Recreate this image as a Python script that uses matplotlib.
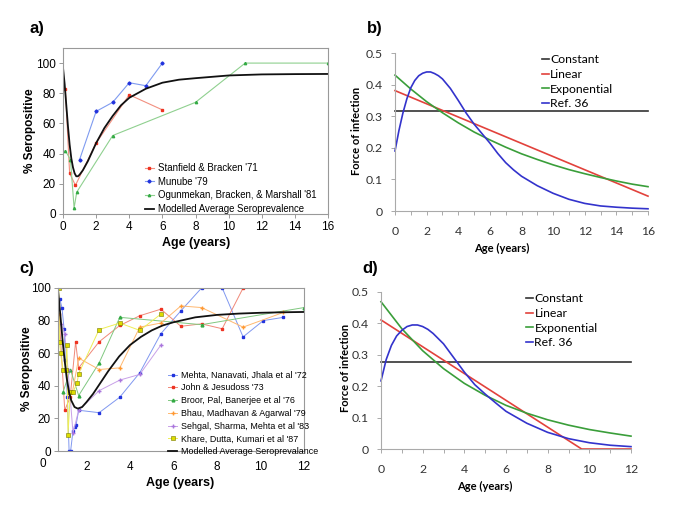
import matplotlib
matplotlib.use("Agg")
import matplotlib.pyplot as plt
from matplotlib.ticker import MultipleLocator

W, H = 685, 512

# ---------------- Panel a data ----------------
a_stan_x = [0.14, 0.4, 0.75, 2, 4, 6]
a_stan_y = [83, 27, 19, 47, 79, 69]
a_mun_x = [1, 2, 3, 4, 5, 6]
a_mun_y = [36, 68, 74, 87, 85, 100]
a_ogu_x = [0.14, 0.45, 0.67, 0.83, 3, 8, 11, 16]
a_ogu_y = [42, 36, 4, 14.5, 52, 74, 100, 100]
a_mod_x = [0, 0.1, 0.2, 0.3, 0.4, 0.5, 0.6, 0.7, 0.8, 0.9, 1.0, 1.2, 1.5, 2, 2.5,
           3, 3.5, 4, 5, 6, 7, 8, 10, 12, 14, 16]
a_mod_y = [97, 86, 72, 58, 46, 37, 31, 27, 25, 25, 26, 29, 35, 47, 57,
           65, 72, 77, 83, 87, 89, 90, 91.8, 92.5, 92.7, 92.8]

# ---------------- Panel b data ----------------
b_x = list(range(0, 17))
b_const = [0.317] * 17
b_lin_x = [0, 16]
b_lin_y = [0.381, 0.047]
b_exp_y = [0.430, 0.386, 0.346, 0.311, 0.279, 0.250, 0.225, 0.202, 0.181,
           0.163, 0.146, 0.131, 0.118, 0.106, 0.095, 0.085, 0.077]
b_ref_x = [0, 0.25, 0.5, 0.75, 1, 1.25, 1.5, 1.75, 2, 2.25, 2.5, 2.75, 3, 3.5,
           4, 4.5, 5, 5.5, 6, 6.5, 7, 7.5, 8, 9, 10, 11, 12, 13, 14, 15, 16]
b_ref_y = [0.19, 0.255, 0.31, 0.355, 0.39, 0.413, 0.428, 0.436, 0.44, 0.44,
           0.435, 0.428, 0.418, 0.388, 0.35, 0.31, 0.275, 0.245, 0.215, 0.182,
           0.153, 0.13, 0.11, 0.08, 0.056, 0.037, 0.024, 0.016, 0.012, 0.009,
           0.007]

# ---------------- Panel c data ----------------
c_meh_x = [0.77, 0.87, 0.97, 1.03, 1.12, 1.2, 1.27, 1.38, 1.45, 1.52, 1.64,
           2.58, 3.53, 4.45, 5.42, 6.34, 7.29, 8.24, 9.2, 10.13, 11.05]
c_meh_y = [93.5, 88, 75, 56, 33, 0, 0, 12.5, 14.5, 16, 25,
           23.5, 33, 48, 72, 86, 100, 100, 70, 80, 82]
c_joh_x = [0.74, 1.0, 1.25, 1.5, 1.64, 2.58, 3.53, 4.45, 5.42, 6.34, 7.29, 8.24, 9.2]
c_joh_y = [84, 25, 33, 67, 51, 67, 77, 83, 87, 76.5, 78, 75, 100]
c_bro_x = [0.92, 1.26, 1.64, 2.58, 3.53, 7.29, 12]
c_bro_y = [36, 50, 34, 54, 82, 77.5, 88]
c_bha_x = [1.2, 1.35, 1.64, 2.58, 3.53, 4.45, 5.42, 6.34, 7.29, 9.2, 11.05]
c_bha_y = [35, 36, 57, 50, 51, 76, 78.5, 89, 88, 76, 85]
c_seh_x = [0.84, 1.0, 1.15, 1.38, 1.64, 2.58, 3.53, 4.45, 5.42]
c_seh_y = [78, 72, 50, 11, 25, 37, 43.5, 47, 65]
c_kha_x = [0.72, 0.76, 0.81, 0.92, 1.04, 1.1, 1.15, 1.26, 1.38, 1.57, 1.64,
           2.58, 3.53, 4.45, 5.42]
c_kha_y = [100, 67, 60, 50, 50, 65, 10, 36, 36, 42, 47.5, 74.5, 78.5, 74, 84]
c_mod_x = [0.69, 0.8, 0.9, 1.0, 1.1, 1.2, 1.3, 1.45, 1.6, 1.8, 2.0, 2.3, 2.6,
           3.0, 3.5, 4.0, 4.5, 5.0, 5.5, 6, 7, 8, 9, 10, 11, 12]
c_mod_y = [99, 83, 68, 55, 44, 36, 31, 27, 26, 27, 30, 35, 41,
           49, 58, 65, 70, 74, 77, 79, 82, 83.5, 84.3, 84.8, 85.1, 85.3]

# ---------------- Panel d data ----------------
d_x = list(range(0, 13))
d_const = [0.276] * 13
d_lin_x = [0, 9.63, 12]
d_lin_y = [0.411, 0.0, 0.0]
d_exp_y = [0.469, 0.383, 0.313, 0.256, 0.209, 0.171, 0.139, 0.114, 0.093,
           0.076, 0.062, 0.051, 0.041]
d_ref_x = [0, 0.25, 0.5, 0.75, 1, 1.25, 1.5, 1.75, 2, 2.25, 2.5, 3, 3.5, 4,
           4.5, 5, 5.5, 6, 7, 8, 9, 10, 11, 12]
d_ref_y = [0.217, 0.285, 0.33, 0.36, 0.378, 0.39, 0.395, 0.395, 0.39, 0.381,
           0.368, 0.335, 0.29, 0.245, 0.205, 0.175, 0.147, 0.12, 0.082, 0.053,
           0.033, 0.02, 0.012, 0.0075]

legend_a = ["Stanfield & Bracken '71", "Munube '79",
            "Ogunmekan, Bracken, & Marshall '81", "Modelled Average Seroprevalence"]
legend_c = ["Mehta, Nanavati, Jhala et al '72", "John & Jesudoss '73",
            "Broor, Pal, Banerjee et al '76", "Bhau, Madhavan & Agarwal '79",
            "Sehgal, Sharma, Mehta et al '83", "Khare, Dutta, Kumari et al '87",
            "Modelled Average Seroprevalance"]
legend_bd = ["Constant", "Linear", "Exponential", "Ref. 36"]

ARIAL = "Liberation Sans"
CAL = "Lato"

fig = plt.figure(figsize=(W / 100, H / 100), dpi=100)


def ax_px(l, t, r, b):
    return fig.add_axes([l / W, 1 - b / H, (r - l) / W, (b - t) / H])


def ftext(x, y, s, **kw):
    fig.text(x / W, 1 - y / H, s, **kw)


GRAY = "#999999"

# ---------------- Panel a ----------------
ax = ax_px(63, 48, 328, 214)
ax.plot(a_stan_x, a_stan_y, color="#f29080", lw=0.8, marker="s", ms=1.9,
        mfc="#ee3322", mec="#ee3322", label=legend_a[0])
ax.plot(a_mun_x, a_mun_y, color="#7f9bf0", lw=0.8, marker="D", ms=1.6,
        mfc="#2233dd", mec="#2233dd", label=legend_a[1])
ax.plot(a_ogu_x, a_ogu_y, color="#8fd08f", lw=0.8, marker="^", ms=1.7,
        mfc="#33aa44", mec="#33aa44", label=legend_a[2])
ax.plot(a_mod_x, a_mod_y, color="#111111", lw=1.3, label=legend_a[3])
ax.set_xlim(0, 16)
ax.set_ylim(0, 110)
ax.set_xticks(range(0, 17, 2))
ax.set_yticks(range(0, 101, 20))
for s in ax.spines.values():
    s.set_color(GRAY)
    s.set_linewidth(0.8)
ax.tick_params(direction="out", length=3, width=0.7, color=GRAY,
               labelsize=8.5, pad=2)
for lab in ax.get_xticklabels() + ax.get_yticklabels():
    lab.set_fontfamily(ARIAL)
ax.legend(loc="upper left", bbox_to_anchor=(0.29, 0.335), frameon=False,
          prop={"family": ARIAL, "size": 6.9}, handlelength=1.0,
          handletextpad=0.4, labelspacing=0.38, borderpad=0)

# ---------------- Panel c ----------------
ax = ax_px(58, 288, 304, 451)
ax.plot(c_meh_x, c_meh_y, color="#8098f0", lw=0.7, marker="s", ms=2.0,
        mfc="#2233dd", mec="#2233dd", label=legend_c[0])
ax.plot(c_joh_x, c_joh_y, color="#f08878", lw=0.7, marker="s", ms=2.0,
        mfc="#ee3322", mec="#ee3322", label=legend_c[1])
ax.plot(c_bro_x, c_bro_y, color="#80c880", lw=0.7, marker="^", ms=2.0,
        mfc="#33aa44", mec="#33aa44", label=legend_c[2])
ax.plot(c_bha_x, c_bha_y, color="#ffb870", lw=0.7, marker="+", ms=2.8,
        mfc="#ff9933", mec="#ff9933", label=legend_c[3])
ax.plot(c_seh_x, c_seh_y, color="#c8a0e8", lw=0.7, marker="+", ms=2.8,
        mfc="#aa77dd", mec="#aa77dd", label=legend_c[4])
ax.plot(c_kha_x, c_kha_y, color="#eeee55", lw=0.7, marker="s", ms=2.3,
        mfc="#dddd00", mec="#777700", mew=0.4, label=legend_c[5])
ax.plot(c_mod_x, c_mod_y, color="#111111", lw=1.3, label=legend_c[6])
ax.set_xlim(0.69, 12)
ax.set_ylim(0, 100)
ax.set_xticks(range(2, 13, 2))
ax.set_yticks(range(0, 101, 20))
for s in ax.spines.values():
    s.set_color(GRAY)
    s.set_linewidth(0.8)
ax.tick_params(direction="out", length=3, width=0.7, color=GRAY,
               labelsize=8.5, pad=2)
ax.tick_params(axis="x", length=0, pad=7)
for lab in ax.get_xticklabels() + ax.get_yticklabels():
    lab.set_fontfamily(ARIAL)
ax.text(0.0, -0.042, "0", transform=ax.get_xaxis_transform(), ha="center",
        va="top", fontsize=8.5, family=ARIAL, clip_on=False)
ax.legend(loc="upper left", bbox_to_anchor=(0.43, 0.52), frameon=False,
          prop={"family": ARIAL, "size": 6.4}, handlelength=1.0,
          handletextpad=0.4, labelspacing=0.42, borderpad=0)


# ---------------- Panels b and d ----------------
def fpanel(ax, xmax, x, const, lin_x, lin_y, exp_y, ref_x, ref_y, bbox):
    ax.plot(x, const, color="#333333", lw=1.2, label=legend_bd[0])
    ax.plot(lin_x, lin_y, color="#e2423c", lw=1.2, label=legend_bd[1])
    ax.plot(x, exp_y, color="#3a9e3a", lw=1.2, label=legend_bd[2])
    ax.plot(ref_x, ref_y, color="#3333cc", lw=1.2, label=legend_bd[3])
    ax.set_xlim(0, xmax)
    ax.set_ylim(0, 0.5)
    ax.set_xticks(range(0, xmax + 1, 2))
    ax.xaxis.set_minor_locator(MultipleLocator(1))
    ax.set_yticks([0, 0.1, 0.2, 0.3, 0.4, 0.5])
    ax.set_yticklabels(["0", "0.1", "0.2", "0.3", "0.4", "0.5"])
    ax.spines["top"].set_visible(False)
    ax.spines["right"].set_visible(False)
    for s in ("left", "bottom"):
        ax.spines[s].set_color("#aaaaaa")
        ax.spines[s].set_linewidth(0.8)
    ax.tick_params(which="both", direction="out", length=3, width=0.7,
                   color="#aaaaaa", labelsize=8.8, labelcolor="#333333")
    ax.tick_params(axis="x", which="both", pad=8)
    ax.tick_params(axis="y", pad=6)
    for lab in ax.get_xticklabels() + ax.get_yticklabels():
        lab.set_fontfamily(CAL)
    for ln in ax.get_lines():
        ln.set_clip_on(False)
    ax.legend(loc="upper left", bbox_to_anchor=bbox, frameon=False,
              prop={"family": CAL, "size": 8.8}, handlelength=0.6,
              handletextpad=0.1, labelspacing=0.3, borderpad=0)


ax = ax_px(395, 53, 648, 211)
fpanel(ax, 16, b_x, b_const, b_lin_x, b_lin_y, b_exp_y, b_ref_x, b_ref_y,
       (0.555, 1.03))
ax = ax_px(381, 292, 631, 449)
fpanel(ax, 12, d_x, d_const, d_lin_x, d_lin_y, d_exp_y, d_ref_x, d_ref_y,
       (0.555, 1.03))

# ---------------- Labels ----------------
ftext(37, 28, "a)", fontsize=12, fontweight="bold", family=ARIAL, ha="center", va="center")
ftext(375, 28, "b)", fontsize=12, fontweight="bold", family=ARIAL, ha="center", va="center")
ftext(27, 269, "c)", fontsize=12, fontweight="bold", family=ARIAL, ha="center", va="center")
ftext(370, 269, "d)", fontsize=12, fontweight="bold", family=ARIAL, ha="center", va="center")

ftext(30, 131, "% Seropositive", fontsize=8.5, fontweight="bold", family=ARIAL,
      rotation=90, ha="center", va="center")
ftext(196, 243, "Age (years)", fontsize=9, fontweight="bold", family=ARIAL,
      ha="center", va="center")
ftext(27, 369, "% Seropositive", fontsize=8.5, fontweight="bold", family=ARIAL,
      rotation=90, ha="center", va="center")
ftext(180, 483, "Age (years)", fontsize=9, fontweight="bold", family=ARIAL,
      ha="center", va="center")

ftext(357, 131, "Force of infection", fontsize=8, fontweight="bold", family=CAL,
      rotation=90, ha="center", va="center")
ftext(502, 248, "Age (years)", fontsize=8, fontweight="bold", family=CAL,
      ha="center", va="center")
ftext(345, 368, "Force of infection", fontsize=8, fontweight="bold", family=CAL,
      rotation=90, ha="center", va="center")
ftext(485, 486, "Age (years)", fontsize=8, fontweight="bold", family=CAL,
      ha="center", va="center")

fig.savefig("out.png", dpi=100)
